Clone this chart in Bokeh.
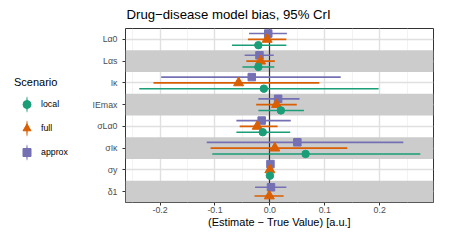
from bokeh.plotting import figure
from bokeh.layouts import row
from bokeh.models import (ColumnDataSource, FactorRange, Range1d, FixedTicker,
                          Legend, LegendItem, Label)
from bokeh.embed import file_html
from bokeh.resources import INLINE

# ---------------- data ----------------
categories = ["Lα0", "Lαs", "Iκ", "IEmax", "σLα0", "σIκ", "σy", "δ1"]   # top -> bottom
# tick label pieces: (text, level) level 0 = normal, 1 = subscript, 2 = sub-subscript
tick_label_parts = {
    "Lα0": [("Lα", 0), ("0", 1)],
    "Lαs": [("Lα", 0), ("s", 1)],
    "Iκ": [("Iκ", 0)],
    "IEmax": [("IEmax", 0)],
    "σLα0": [("σ", 0), ("Lα", 1), ("0", 2)],
    "σIκ": [("σ", 0), ("Iκ", 1)],
    "σy": [("σ", 0), ("y", 1)],
    "δ1": [("δ", 0), ("1", 1)],
}
shaded_rows = ["Lαs", "IEmax", "σIκ", "δ1"]

series = ["local", "full", "approx"]           # legend order
stack_order = ["approx", "full", "local"]      # top -> bottom within a row

approx_est = [-0.003, -0.019, -0.033, 0.015, -0.015, 0.050, 0.001, 0.002]
approx_lo = [-0.038, -0.046, -0.198, -0.021, -0.061, -0.115, -0.002, -0.027]
approx_hi = [0.031, 0.007, 0.129, 0.054, 0.038, 0.243, 0.004, 0.030]

full_est = [-0.005, -0.017, -0.057, 0.012, -0.023, 0.009, 0.000, -0.001]
full_lo = [-0.040, -0.043, -0.212, -0.025, -0.055, -0.108, -0.002, -0.028]
full_hi = [0.030, 0.009, 0.090, 0.049, 0.014, 0.141, 0.002, 0.025]

local_est = [-0.021, -0.021, -0.011, 0.020, -0.013, 0.065, 0.000, None]
local_lo = [-0.069, -0.050, -0.238, -0.021, -0.061, -0.105, -0.002, None]
local_hi = [0.030, 0.008, 0.198, 0.062, 0.037, 0.274, 0.002, None]

x_ticks = [-0.2, -0.1, 0.0, 0.1, 0.2]
x_tick_labels = ["-0.2", "-0.1", "0.0", "0.1", "0.2"]
x_minor_ticks = [-0.25, -0.15, -0.05, 0.05, 0.15, 0.25]
zero_ref = [0.0]
x_start, x_end = -0.263, 0.298

title_text = "Drug\u2212disease model bias, 95% CrI"
x_title = "(Estimate \u2212 True Value) [a.u.]"
legend_title = "Scenario"

colors = {"local": "#1B9E77", "full": "#D95F02", "approx": "#7570B3"}
markers = {"local": "circle", "full": "triangle", "approx": "square"}
sizes = {"local": 7.5, "full": 10, "approx": 7.5}

data = {
    "approx": (approx_est, approx_lo, approx_hi),
    "full": (full_est, full_lo, full_hi),
    "local": (local_est, local_lo, local_hi),
}

FONT = "Liberation Sans"
LEG_W = 80          # width of the legend column
TOTAL_W, TOTAL_H = 434, 230

# ---------------- main figure ----------------
y_factors = list(reversed(categories))
p = figure(width=TOTAL_W - LEG_W, height=TOTAL_H,
           x_range=Range1d(x_start, x_end),
           y_range=FactorRange(factors=y_factors),
           output_backend="svg", toolbar_location=None,
           min_border_left=125 - LEG_W, min_border_right=1,
           min_border_top=28, min_border_bottom=0)
p.background_fill_color = "white"
p.border_fill_color = "white"
p.outline_line_color = "#333333"
p.outline_line_width = 1

p.title.text = title_text
p.title.text_font = FONT
p.title.text_font_size = "13.2px"
p.title.text_font_style = "normal"
p.title.text_color = "black"
p.title.align = "left"
p.title.vertical_align = "top"
p.title.offset = 1
p.title.standoff = 9

# grid
p.xaxis.ticker = FixedTicker(ticks=x_ticks, minor_ticks=x_minor_ticks)
p.xaxis.major_label_overrides = {t: l for t, l in zip(x_ticks, x_tick_labels)}
p.xgrid.grid_line_color = "#E0E0E0"
p.xgrid.grid_line_width = 1.4
p.xgrid.minor_grid_line_color = "#F0F0F0"
p.xgrid.minor_grid_line_width = 0.8
p.ygrid.grid_line_color = "#E0E0E0"
p.ygrid.grid_line_width = 1.4

# axes
for ax in (p.xaxis[0], p.yaxis[0]):
    ax.axis_line_color = None
    ax.major_tick_out = 3
    ax.major_tick_in = 0
    ax.minor_tick_out = 0
    ax.minor_tick_in = 0
    ax.major_tick_line_color = "#333333"
    ax.major_tick_line_width = 1
    ax.major_label_text_font = FONT
    ax.major_label_text_font_size = "8.8px"
    ax.major_label_text_color = "#4D4D4D"
p.xaxis.major_label_standoff = 1
p.xaxis.axis_label = x_title
p.xaxis.axis_label_text_font = FONT
p.xaxis.axis_label_text_font_size = "11px"
p.xaxis.axis_label_text_font_style = "normal"
p.xaxis.axis_label_text_color = "black"
p.xaxis.axis_label_standoff = 0
p.yaxis.major_label_overrides = {c: "" for c in categories}

# shaded bands
p.hbar(y=shaded_rows, height=1, left=x_start, right=x_end,
       fill_color="#CCCCCC", line_color=None)
# zero reference line
p.vspan(x=zero_ref, line_color="#333333", line_width=1.2)

# dodge offsets (ggplot position_dodge width 0.8)
offsets = {}
for i, c in enumerate(categories):
    present = [s for s in stack_order if data[s][0][i] is not None]
    n = len(present)
    for j, s in enumerate(present):
        offsets[(s, i)] = 0.4 - 0.8 / n * (j + 0.5)

for s in stack_order:
    est, lo, hi = data[s]
    rows = [i for i in range(len(categories)) if est[i] is not None]
    src = ColumnDataSource(dict(
        y=[(categories[i], offsets[(s, i)]) for i in rows],
        est=[est[i] for i in rows],
        lo=[lo[i] for i in rows],
        hi=[hi[i] for i in rows],
    ))
    p.segment(x0="lo", x1="hi", y0="y", y1="y", source=src,
              line_color=colors[s], line_width=1.6)
for s in stack_order:
    est, lo, hi = data[s]
    rows = [i for i in range(len(categories)) if est[i] is not None]
    src = ColumnDataSource(dict(
        y=[(categories[i], offsets[(s, i)]) for i in rows],
        est=[est[i] for i in rows],
    ))
    p.scatter(x="est", y="y", source=src, marker=markers[s],
              size=sizes[s], fill_color=colors[s], line_color=colors[s])

# y tick labels with sub/sub-subscripts (placed at each factor's centre)
sizes_px = {0: 8.8, 1: 6.4, 2: 5.2}
shifts = {0: 0.0, 1: 2.2, 2: 3.6}
char_w = {"L": .556, "α": .60, "I": .278, "κ": .52, "E": .667, "m": .833, "a": .556,
          "x": .5, "σ": .60, "y": .5, "δ": .556, "0": .556, "1": .556, "s": .5}
for c in categories:
    y_centre = y_factors.index(c) + 0.5
    parts = tick_label_parts[c]
    right = -5.0
    for text, lvl in reversed(parts):
        w = sum(char_w.get(ch, .55) for ch in text) * sizes_px[lvl]
        p.add_layout(Label(x=x_start, y=y_centre, x_offset=right, y_offset=-3.2 - shifts[lvl],
                           text=text, text_align="right", text_baseline="alphabetic",
                           text_font=FONT, text_font_size=f"{sizes_px[lvl]}px",
                           text_color="#4D4D4D"))
        right -= w

# ---------------- legend column ----------------
lg = figure(width=LEG_W, height=TOTAL_H, title=None, x_range=Range1d(0, 1), y_range=Range1d(0, 1),
            output_backend="svg", toolbar_location=None,
            min_border_left=0, min_border_right=0, min_border_top=0, min_border_bottom=0)
lg.axis.visible = False
lg.grid.visible = False
lg.outline_line_color = None
lg.background_fill_color = "white"
lg.border_fill_color = "white"

items = []
for s in series:
    key_src = ColumnDataSource(dict(x=[float("nan")], y=[float("nan")]))
    bar = lg.ellipse(x="x", y="y", width=1.6, height=17, width_units="screen",
                     height_units="screen", source=key_src,
                     fill_color=colors[s], line_color=None)
    pt = lg.scatter(x="x", y="y", source=key_src, marker=markers[s], size=sizes[s],
                    fill_color=colors[s], line_color=colors[s])
    items.append(LegendItem(label=s, renderers=[bar, pt]))

legend = Legend(items=items, location=(14, 40), orientation="vertical")
legend.title = legend_title
legend.title_text_font = FONT
legend.title_text_font_size = "11px"
legend.title_text_font_style = "normal"
legend.title_text_color = "black"
legend.title_standoff = 6
legend.label_text_font = FONT
legend.label_text_font_size = "8.8px"
legend.label_text_color = "black"
legend.glyph_width = 25
legend.glyph_height = 20
legend.label_height = 20
legend.label_standoff = 2
legend.spacing = 4
legend.padding = 0
legend.margin = 0
legend.border_line_color = None
legend.background_fill_alpha = 0
lg.add_layout(legend, "center")

layout = row(lg, p, spacing=0)
open("out.html", "w").write(file_html(layout, INLINE))
